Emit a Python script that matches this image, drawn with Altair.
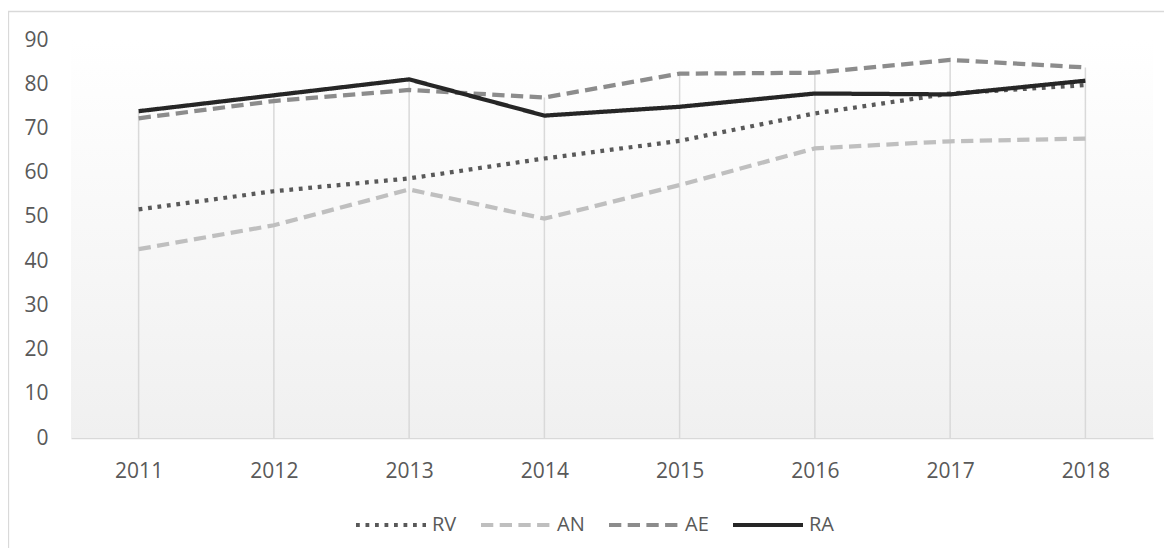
import altair as alt
import pandas as pd

years = ["2011", "2012", "2013", "2014", "2015", "2016", "2017", "2018"]
series_names = ["RV", "AN", "AE", "RA"]
rv = [51.7, 55.8, 58.7, 63.2, 67.2, 73.4, 77.9, 79.8]
an = [42.7, 48.1, 56.2, 49.6, 57.2, 65.5, 67.1, 67.7]
ae = [72.3, 76.2, 78.7, 77.0, 82.4, 82.6, 85.5, 83.8]
ra = [73.9, 77.5, 81.1, 72.9, 74.9, 77.9, 77.7, 80.8]
y_ticks = [0, 10, 20, 30, 40, 50, 60, 70, 80, 90]

series_colors = ["#595959", "#bfbfbf", "#8c8c8c", "#262626"]
series_dashes = [[3.8, 5.7], [12.3, 6.4], [12.3, 6.4], [1, 0]]

rows = []
for name, vals in zip(series_names, [rv, an, ae, ra]):
    for yr, v in zip(years, vals):
        rows.append({"year": yr, "series": name, "value": v})
df = pd.DataFrame(rows)

W, H = 1082, 398
FONT = "Open Sans"
TXT = "#595959"

x_enc = alt.X(
    "year:O",
    scale=alt.Scale(type="point", padding=0.5),
    axis=alt.Axis(
        title=None, labelAngle=0, labelFont=FONT, labelFontSize=21, labelColor=TXT,
        ticks=False, tickSize=0, domainColor="#d9d9d9", domainWidth=1.3,
        grid=False, labelPadding=22,
    ),
)
y_scale = alt.Scale(domain=[0, 90], nice=False)
y_axis = alt.Axis(
    title=None, values=y_ticks, domain=False, ticks=False, tickSize=0, grid=False,
    labelPadding=23, labelFont=FONT, labelFontSize=21, labelColor=TXT,
)

leg = alt.Legend(
    title=None, orient="none", legendX=283, legendY=448, direction="horizontal",
    symbolType="stroke", symbolSize=4900, symbolStrokeWidth=4,
    labelFont=FONT, labelFontSize=20, labelColor=TXT, labelOffset=4,
    columnPadding=16, padding=0, gridAlign="none",
)

bg = alt.Chart(pd.DataFrame({"k": [0]})).mark_rect(
    color=alt.LinearGradient(
        gradient="linear",
        stops=[alt.GradientStop(color="#ffffff", offset=0),
               alt.GradientStop(color="#f0f0f0", offset=1)],
        x1=0, x2=0, y1=0, y2=1,
    )
).encode(x=alt.value(0), x2=alt.value(W), y=alt.value(0), y2=alt.value(H))

drops = alt.Chart(df).transform_aggregate(
    top="max(value)", groupby=["year"]
).mark_rule(color="#d9d9d9", strokeWidth=1.5).encode(
    x=x_enc,
    y=alt.Y("top:Q", scale=y_scale, axis=y_axis),
    y2=alt.datum(0),
)

lines = alt.Chart(df).mark_line(strokeWidth=4.25).encode(
    x=x_enc,
    y=alt.Y("value:Q", scale=y_scale, axis=y_axis),
    color=alt.Color("series:N", scale=alt.Scale(domain=series_names, range=series_colors), legend=leg),
    strokeDash=alt.StrokeDash("series:N", scale=alt.Scale(domain=series_names, range=series_dashes), legend=leg),
    order=alt.value(0),
)

border = alt.Chart(pd.DataFrame({"k": [0]})).mark_rect(
    fillOpacity=0, stroke="#d9d9d9", strokeWidth=1.3
).encode(x=alt.value(-62.5), x2=alt.value(1300), y=alt.value(-28.5), y2=alt.value(700))

chart = alt.layer(bg, drops, lines, border).properties(
    width=W, height=H,
    padding={"left": 63, "top": 32, "right": 11, "bottom": 110},
    autosize=alt.AutoSizeParams(type="none"),
).configure_view(strokeWidth=0)

chart.save("out.html", embed_options={"renderer": "svg", "actions": False})
